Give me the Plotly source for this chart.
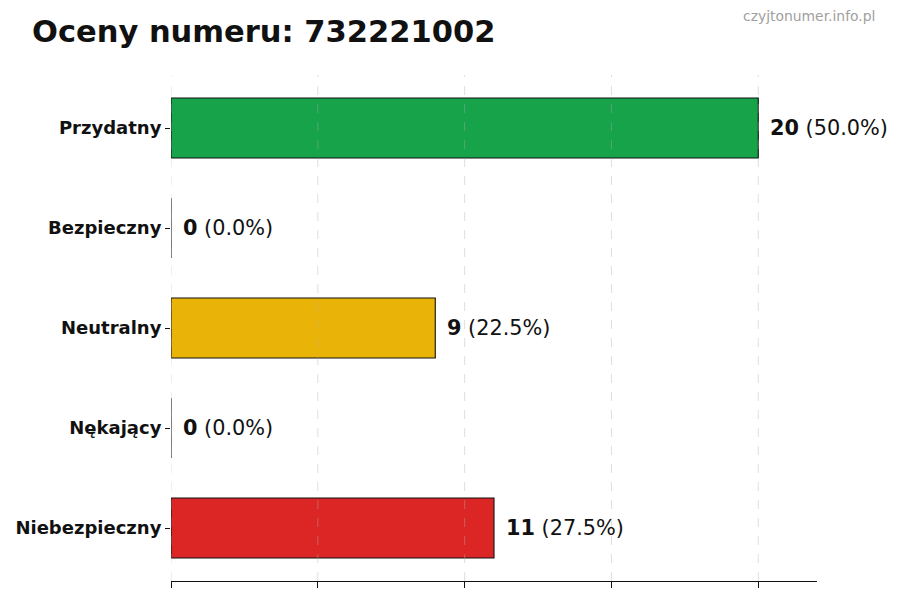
import plotly.graph_objects as go

# dane z wykresu
kategorie = ["Przydatny", "Bezpieczny", "Neutralny", "Nękający", "Niebezpieczny"]
liczby = [20, 0, 9, 0, 11]
kolory = ["#16a34a", "#2563eb", "#eab308", "#f97316", "#dc2626"]
numer = "732221002"
siatka_x = [5, 10, 15, 20]

suma = sum(liczby)
FONT = "DejaVu Sans"

fig = go.Figure()
fig.add_trace(go.Bar(
    y=kategorie, x=liczby, orientation="h", width=0.6,
    marker=dict(color=kolory, line=dict(color="#111111", width=1.1)),
    hoverinfo="x+y",
))

# etykiety przy słupkach
for kat, n in zip(kategorie, liczby):
    proc = 100 * n / suma if suma else 0
    fig.add_annotation(
        x=n, y=kat, xref="x", yref="y",
        text=f"<b>{n}</b> ({proc:.1f}%)",
        showarrow=False, xanchor="left", yanchor="middle", xshift=10,
        font=dict(family=FONT, size=20.8, color="#111111"),
    )

# przerywana siatka nad słupkami (jak w oryginale)
for gx in [0] + siatka_x:
    fig.add_shape(
        type="line", xref="x", yref="paper", x0=gx, x1=gx, y0=0, y1=1,
        line=dict(color="rgba(175,175,175,0.5)", width=0.8, dash="dash"),
        layer="above",
    )

fig.add_annotation(
    text="czyjtonumer.info.pl", xref="paper", yref="paper",
    x=1.0, y=1.0, xanchor="right", yanchor="middle",
    xshift=60, yshift=59, showarrow=False,
    font=dict(family=FONT, size=13.9, color="#a0a0a0"),
)

fig.update_layout(
    width=900, height=600,
    paper_bgcolor="white", plot_bgcolor="white",
    margin=dict(l=171, r=83, t=75, b=19),
    showlegend=False,
    title=dict(
        text=f"<b>Oceny numeru: {numer}</b>",
        x=32 / 900, xanchor="left", y=1 - 31 / 600, yanchor="middle",
        font=dict(family=FONT, size=30.5, color="#111111"),
    ),
    xaxis=dict(
        range=[0, 22], tickvals=[0] + siatka_x, showticklabels=False,
        ticks="outside", ticklen=6, tickcolor="#111111",
        showgrid=False, zeroline=False,
        showline=True, linecolor="#111111", linewidth=1.2,
    ),
    yaxis=dict(
        range=[4.53, -0.53], categoryorder="array", categoryarray=kategorie,
        ticks="outside", ticklen=5, tickcolor="#111111",
        showline=False, showgrid=False, zeroline=False,
        tickfont=dict(family=FONT, size=18, color="#111111", weight="bold"),
    ),
)

fig.write_html(
    "out.html",
    config={"displayModeBar": False},
    post_script="document.body.style.margin='0';",
)
